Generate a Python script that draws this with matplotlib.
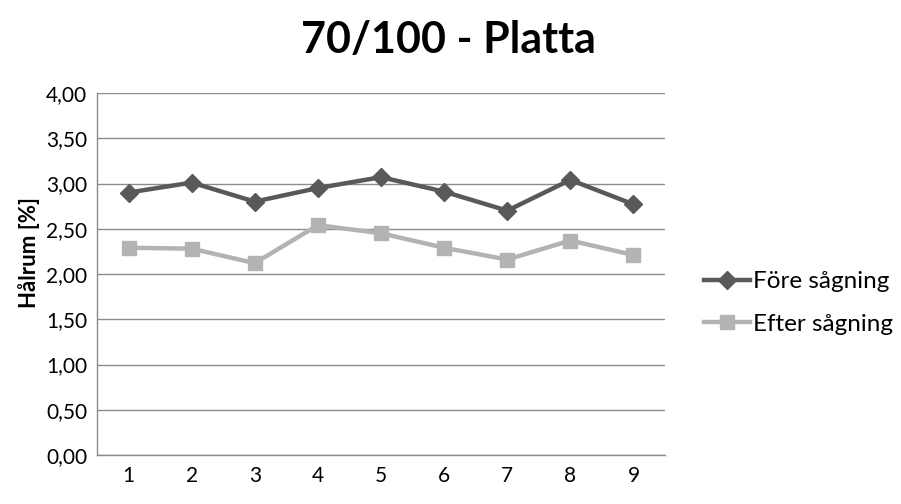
import matplotlib
matplotlib.use("Agg")
import matplotlib.pyplot as plt
from matplotlib.ticker import FuncFormatter

plt.rcParams["font.family"] = ["Lato", "DejaVu Sans"]

samples = [1, 2, 3, 4, 5, 6, 7, 8, 9]
fore = [2.90, 3.01, 2.80, 2.95, 3.07, 2.91, 2.70, 3.04, 2.77]
efter = [2.29, 2.28, 2.12, 2.54, 2.45, 2.29, 2.16, 2.37, 2.21]
labels = ["Före sågning", "Efter sågning"]

fig = plt.figure(figsize=(9.01, 5.04), dpi=100)
ax = fig.add_axes([97 / 901, 1 - 455 / 504, 568 / 901, 362 / 504])

ax.plot(samples, fore, "-D", color="#595959", lw=3.2, ms=9.5, label=labels[0])
ax.plot(samples, efter, "-s", color="#b3b3b3", lw=3.2, ms=10.5, label=labels[1])

ax.set_xlim(0.5, 9.5)
ax.set_ylim(0, 4)
ax.set_yticks([i * 0.5 for i in range(9)])
ax.yaxis.set_major_formatter(FuncFormatter(lambda v, p: f"{v:.2f}".replace(".", ",")))
ax.set_xticks(samples)
ax.tick_params(length=0, labelsize=15, pad=7)
ax.tick_params(axis="x", pad=8)
ax.grid(axis="y", color="#8c8c8c", lw=1.0)
ax.set_axisbelow(True)
for s in ["top", "right"]:
    ax.spines[s].set_visible(False)
for s in ["left", "bottom"]:
    ax.spines[s].set_color("#8c8c8c")
    ax.spines[s].set_linewidth(1.0)

ax.set_ylabel("Hålrum [%]", fontsize=16, fontweight="bold")
ax.yaxis.set_label_coords(-0.1, 0.56)
fig.text(448 / 901, 1 - 40 / 504, "70/100 - Platta", fontsize=31, fontweight="bold",
         ha="center", va="center")

ax.legend(loc="center left", bbox_to_anchor=(1.03, 0.42), frameon=False, fontsize=17.5,
          handlelength=1.9, handletextpad=0.1, labelspacing=0.9)

fig.savefig("out.png", dpi=100)
